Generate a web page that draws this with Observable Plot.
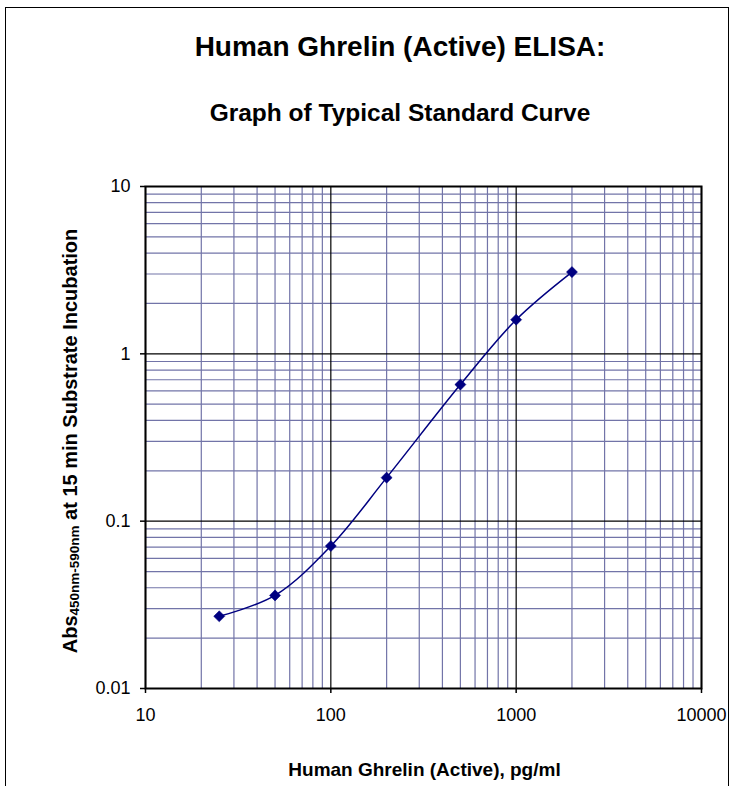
<!DOCTYPE html>
<html>
<head>
<meta charset="utf-8">
<script src="https://cdn.jsdelivr.net/npm/d3@7"></script>
<script src="https://cdn.jsdelivr.net/npm/@observablehq/plot@0.6"></script>
<style>
  html, body { margin: 0; padding: 0; background: #fff; }
  #page { position: relative; width: 735px; height: 786px; overflow: hidden; font-family: "Liberation Sans", Arial, sans-serif; color: #000; }
  #border { position: absolute; left: 5px; top: 7px; width: 724px; height: 800px; border: 1.5px solid #000; box-sizing: border-box; }
  .t { position: absolute; font-weight: bold; white-space: nowrap; transform: translate(-50%, -50%); }
  #chart { position: absolute; left: 0; top: 0; }
  #ylab { position: absolute; left: 70px; top: 441px; transform: translate(-50%, -50%) rotate(-90deg); font-weight: bold; font-size: 20px; white-space: nowrap; }
  #ylab sub { font-size: 13.5px; vertical-align: -2px; }
</style>
</head>
<body>
<div id="page">
  <div id="border"></div>
  <div id="chart"></div>
  <div class="t" id="title" style="left:400px; top:46.5px; font-size:28px;">Human Ghrelin (Active) ELISA:</div>
  <div class="t" id="subtitle" style="left:400px; top:113px; font-size:24.5px;">Graph of Typical Standard Curve</div>
  <div id="ylab">Abs<sub>450nm-590nm</sub> at 15 min Substrate Incubation</div>
  <div class="t" id="xlab" style="left:424.5px; top:770px; font-size:19px;">Human Ghrelin (Active), pg/ml</div>
</div>
<script>
const concentrations = [25, 50, 100, 200, 500, 1000, 2000];
const absorbance = [0.027, 0.036, 0.071, 0.182, 0.655, 1.60, 3.08];
const xMajorTicks = [10, 100, 1000, 10000];
const yMajorTicks = [0.01, 0.1, 1, 10];
const xMinorTicks = [20, 30, 40, 50, 60, 70, 80, 90,
                     200, 300, 400, 500, 600, 700, 800, 900,
                     2000, 3000, 4000, 5000, 6000, 7000, 8000, 9000];
const yMinorTicks = [0.02, 0.03, 0.04, 0.05, 0.06, 0.07, 0.08, 0.09,
                     0.2, 0.3, 0.4, 0.5, 0.6, 0.7, 0.8, 0.9,
                     2, 3, 4, 5, 6, 7, 8, 9];

const data = concentrations.map((x, i) => ({x, y: absorbance[i]}));
const gridColor = "#7274a8";

const chart = Plot.plot({
  width: 735,
  height: 786,
  marginLeft: 145,
  marginRight: 34,
  marginTop: 186,
  marginBottom: 98,
  style: {fontFamily: "Liberation Sans, Arial, sans-serif", background: "transparent", color: "#000"},
  x: {type: "log", domain: [10, 10000]},
  y: {type: "log", domain: [0.01, 10]},
  marks: [
    Plot.ruleX(xMinorTicks, {stroke: gridColor, strokeWidth: 1.2}),
    Plot.ruleY(yMinorTicks, {stroke: gridColor, strokeWidth: 1.2}),
    Plot.ruleX(xMajorTicks, {stroke: "#000", strokeWidth: 1.2}),
    Plot.ruleY(yMajorTicks, {stroke: "#000", strokeWidth: 1.2}),
    Plot.frame({stroke: "#000", strokeWidth: 2}),
    Plot.axisX({ticks: xMajorTicks, tickFormat: d => String(d), tickSize: 5, tickPadding: 15, fontSize: 18, label: null, strokeWidth: 1.5}),
    Plot.axisY({ticks: yMajorTicks, tickFormat: d => String(d), tickSize: 5, tickPadding: 10, fontSize: 18, label: null, strokeWidth: 1.5}),
    Plot.line(data, {x: "x", y: "y", curve: "catmull-rom", stroke: "#000080", strokeWidth: 1.5}),
    Plot.dot(data, {x: "x", y: "y", symbol: "diamond2", r: 5, fill: "#000080", stroke: "#000080", strokeWidth: 0.5})
  ]
});
document.getElementById("chart").appendChild(chart);
</script>
</body>
</html>
